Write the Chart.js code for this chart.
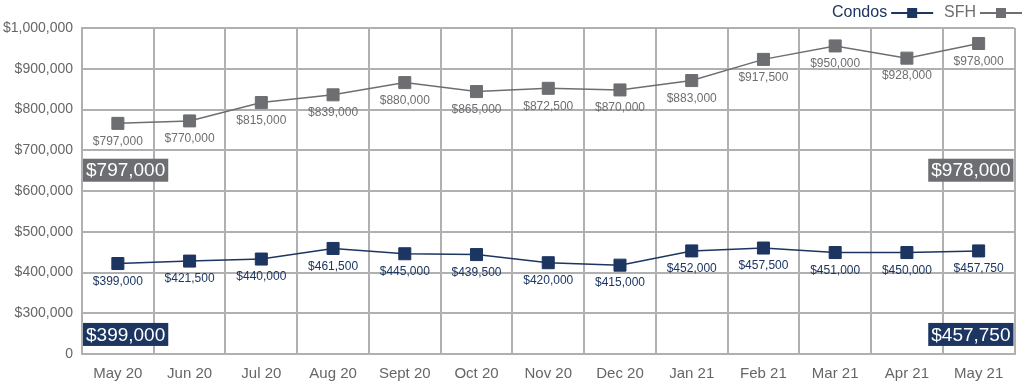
<!DOCTYPE html>
<html>
<head>
<meta charset="utf-8">
<script src="https://cdn.jsdelivr.net/npm/chart.js@4"></script>
<style>
  html, body { margin: 0; padding: 0; background: #fff; }
  #wrap { width: 1024px; height: 391px; }
</style>
</head>
<body>
<div id="wrap"><canvas id="myChart" width="1024" height="391"></canvas></div>
<script>
const months = ['May 20', 'Jun 20', 'Jul 20', 'Aug 20', 'Sept 20', 'Oct 20', 'Nov 20', 'Dec 20', 'Jan 21', 'Feb 21', 'Mar 21', 'Apr 21', 'May 21'];
const sfhValues = [766000, 772000, 817000, 836000, 866000, 844000, 852000, 848000, 871000, 923000, 956000, 926000, 962000];
const condoValues = [422000, 428000, 433000, 459000, 446000, 444000, 424000, 418000, 453000, 460000, 449000, 449000, 453000];
const sfhLabels = ['$797,000', '$770,000', '$815,000', '$839,000', '$880,000', '$865,000', '$872,500', '$870,000', '$883,000', '$917,500', '$950,000', '$928,000', '$978,000'];
const condoLabels = ['$399,000', '$421,500', '$440,000', '$461,500', '$445,000', '$439,500', '$420,000', '$415,000', '$452,000', '$457,500', '$451,000', '$450,000', '$457,750'];
const yTicks = [200000, 300000, 400000, 500000, 600000, 700000, 800000, 900000, 1000000];
const sfhSummary = ['$797,000', '$978,000'];
const condoSummary = ['$399,000', '$457,750'];

const NAVY = '#1c3561';
const GRAY = '#6d6e71';
const GRID = '#b0b0b0';
const FONT = "'Liberation Sans', Arial, sans-serif";

const money = v => v === yTicks[0] ? '0' : '$' + v.toLocaleString('en-US');

// labels under each point, summary boxes and the legend
const extras = {
  id: 'extras',
  afterDatasetsDraw(chart) {
    const c = chart.ctx;
    const area = chart.chartArea;
    const y = chart.scales.y;

    c.save();
    c.font = '12px ' + FONT;
    c.textAlign = 'center';
    c.textBaseline = 'middle';
    [[0, condoLabels, NAVY], [1, sfhLabels, GRAY]].forEach(([i, labels, col]) => {
      c.fillStyle = col;
      chart.getDatasetMeta(i).data.forEach((pt, j) => {
        c.fillText(labels[j], pt.x, pt.y + 18);
      });
    });

    const box = (text, col, cy, left) => {
      c.font = '19px ' + FONT;
      const w = c.measureText(text).width + 6;
      const x = left ? area.left + 1 : area.right - w - 1;
      c.fillStyle = col;
      c.fillRect(x, cy - 11.5, w, 23);
      c.fillStyle = '#fff';
      c.textAlign = 'left';
      c.fillText(text, x + 3, cy + 1);
    };
    box(sfhSummary[0], GRAY, y.getPixelForValue(651000), true);
    box(sfhSummary[1], GRAY, y.getPixelForValue(651000), false);
    box(condoSummary[0], NAVY, y.getPixelForValue(248000), true);
    box(condoSummary[1], NAVY, y.getPixelForValue(248000), false);

    // legend
    c.font = '16px ' + FONT;
    c.textAlign = 'left';
    const ly = 13;
    const item = (text, col, x) => {
      c.fillStyle = col;
      c.fillText(text, x, ly);
      const tx = x + c.measureText(text).width + 4;
      c.strokeStyle = col;
      c.lineWidth = 2;
      c.beginPath();
      c.moveTo(tx, ly);
      c.lineTo(tx + 42, ly);
      c.stroke();
      c.fillRect(tx + 16, ly - 5, 10, 10);
    };
    item('Condos', NAVY, 832);
    item('SFH', GRAY, 944);
    c.restore();
  }
};

new Chart(document.getElementById('myChart'), {
  type: 'line',
  data: {
    labels: months,
    datasets: [{
      label: 'Condos',
      data: condoValues,
      borderColor: NAVY,
      backgroundColor: NAVY,
      borderWidth: 1.5,
      pointStyle: 'rect',
      pointRadius: 8.5,
      pointBorderWidth: 1,
      tension: 0
    }, {
      label: 'SFH',
      data: sfhValues,
      borderColor: GRAY,
      backgroundColor: GRAY,
      borderWidth: 1.5,
      pointStyle: 'rect',
      pointRadius: 8.5,
      pointBorderWidth: 1,
      tension: 0
    }]
  },
  options: {
    responsive: false,
    animation: false,
    layout: { padding: { top: 28, right: 3, left: 0, bottom: 0 } },
    plugins: {
      legend: { display: false },
      tooltip: { enabled: false }
    },
    scales: {
      x: {
        offset: true,
        grid: { offset: true, color: GRID, lineWidth: 2, drawTicks: false },
        border: { color: GRID, width: 2 },
        ticks: { color: '#666', font: { family: FONT, size: 15 }, padding: 11, maxRotation: 0 },
        afterFit: s => { s.height = 37; }
      },
      y: {
        min: yTicks[0],
        max: yTicks[yTicks.length - 1],
        grid: { color: GRID, lineWidth: 2, drawTicks: false },
        border: { color: GRID, width: 2 },
        afterBuildTicks: s => { s.ticks = yTicks.map(v => ({ value: v })); },
        ticks: { color: '#666', font: { family: FONT, size: 14 }, padding: 9, callback: money },
        afterFit: s => { s.width = 82; }
      }
    }
  },
  plugins: [extras]
});
</script>
</body>
</html>
